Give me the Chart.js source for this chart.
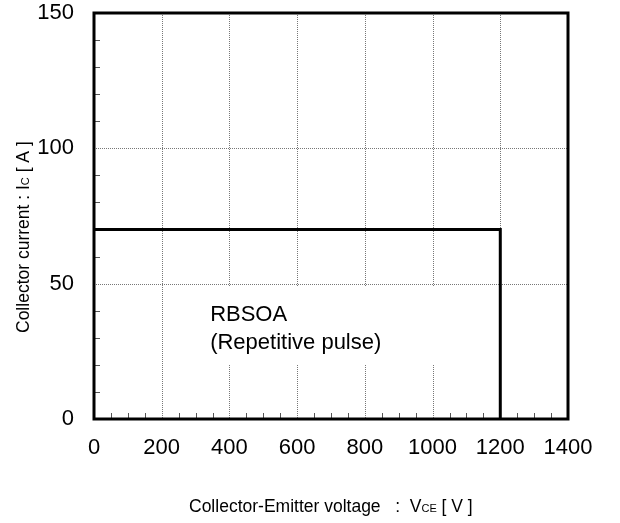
<!DOCTYPE html>
<html>
<head>
<meta charset="utf-8">
<script src="https://cdn.jsdelivr.net/npm/chart.js@4.4.1/dist/chart.umd.min.js"></script>
<style>
  html, body { margin: 0; padding: 0; background: #fff; }
  #wrap { width: 620px; height: 523px; }
</style>
</head>
<body>
<div id="wrap"><canvas id="soaChart" width="620" height="523"></canvas></div>
<script>
// RBSOA boundary
const voltageV = [0, 1200, 1200];
const currentA = [70, 70, 0];

const xTickLabels = [0, 200, 400, 600, 800, 1000, 1200, 1400];
const yTickLabels = [0, 50, 100, 150];

const noteLines = ['RBSOA', '(Repetitive pulse)'];

const FONT = '"Liberation Sans", Arial, sans-serif';

// draws text made of runs with different sizes on one baseline
function drawRuns(ctx, runs, x, y) {
    let cx = x;
    runs.forEach(r => {
        ctx.font = r.size + 'px ' + FONT;
        ctx.fillText(r.text, cx, y);
        cx += ctx.measureText(r.text).width;
    });
}

const soaPlugin = {
    id: 'soa',
    beforeDatasetsDraw(chart) {
        const ctx = chart.ctx;
        const xs = chart.scales.x, ys = chart.scales.y;
        const a = chart.chartArea;
        ctx.save();
        ctx.strokeStyle = '#777';
        ctx.lineWidth = 1;
        ctx.setLineDash([1, 1]);
        xTickLabels.forEach(v => {
            const px = Math.round(xs.getPixelForValue(v)) + 0.5;
            ctx.beginPath();
            ctx.moveTo(px, a.top);
            ctx.lineTo(px, a.bottom);
            ctx.stroke();
        });
        yTickLabels.forEach(v => {
            const py = Math.round(ys.getPixelForValue(v)) + 0.5;
            ctx.beginPath();
            ctx.moveTo(a.left, py);
            ctx.lineTo(a.right, py);
            ctx.stroke();
        });
        ctx.setLineDash([]);

        // white box behind the note
        const bx1 = xs.getPixelForValue(250), bx2 = xs.getPixelForValue(1120);
        const by1 = ys.getPixelForValue(49), by2 = ys.getPixelForValue(20);
        ctx.fillStyle = '#fff';
        ctx.fillRect(bx1, by1, bx2 - bx1, by2 - by1);

        // minor ticks, inside
        ctx.strokeStyle = '#555';
        for (let v = 50; v < 1400; v += 50) {
            if (v % 200 === 0) continue;
            const px = Math.round(xs.getPixelForValue(v)) + 0.5;
            ctx.beginPath();
            ctx.moveTo(px, a.bottom);
            ctx.lineTo(px, a.bottom - 6);
            ctx.stroke();
        }
        for (let v = 10; v < 150; v += 10) {
            if (v % 50 === 0) continue;
            const py = Math.round(ys.getPixelForValue(v)) + 0.5;
            ctx.beginPath();
            ctx.moveTo(a.left, py);
            ctx.lineTo(a.left + 6, py);
            ctx.stroke();
        }
        ctx.restore();
    },
    afterDatasetsDraw(chart) {
        const ctx = chart.ctx;
        const xs = chart.scales.x, ys = chart.scales.y;
        const a = chart.chartArea;
        ctx.save();
        // frame
        ctx.strokeStyle = '#000';
        ctx.lineWidth = 3;
        ctx.strokeRect(a.left, a.top, a.right - a.left, a.bottom - a.top);

        // note
        ctx.fillStyle = '#000';
        ctx.textBaseline = 'alphabetic';
        ctx.font = '22px ' + FONT;
        ctx.fillText(noteLines[0], xs.getPixelForValue(343), ys.getPixelForValue(36.2));
        ctx.fillText(noteLines[1], xs.getPixelForValue(343), ys.getPixelForValue(25.9));

        // axis titles
        drawRuns(ctx, [
            {text: 'Collector-Emitter voltage   :  V', size: 17.5},
            {text: 'CE', size: 11},
            {text: ' [ V ]', size: 17.5}
        ], 189, 512);

        ctx.translate(28.5, 333);
        ctx.rotate(-Math.PI / 2);
        drawRuns(ctx, [
            {text: 'Collector current : I', size: 17.5},
            {text: 'C', size: 11},
            {text: ' [ A ]', size: 17.5}
        ], 0, 0);
        ctx.restore();
    }
};

const ctx = document.getElementById('soaChart');

new Chart(ctx, {
    type: 'line',
    data: {
        datasets: [{
            label: 'RBSOA',
            data: voltageV.map((v, i) => ({x: v, y: currentA[i]})),
            borderColor: '#000',
            borderWidth: 3,
            pointRadius: 0,
            tension: 0,
            fill: false
        }]
    },
    options: {
        responsive: false,
        animation: false,
        layout: {
            padding: {top: 13, right: 52, left: 0, bottom: 0}
        },
        plugins: {
            legend: {display: false},
            tooltip: {enabled: false}
        },
        scales: {
            x: {
                type: 'linear',
                min: 0,
                max: 1400,
                afterFit: s => {
                    s.height = 104;
                    s.paddingLeft = 0;
                    s.paddingRight = 0;
                },
                afterBuildTicks: s => { s.ticks = xTickLabels.map(v => ({value: v})); },
                grid: {display: false, drawTicks: false},
                border: {display: false},
                ticks: {
                    color: '#000',
                    padding: 16,
                    maxRotation: 0,
                    font: {family: FONT, size: 22},
                    callback: v => String(v)
                }
            },
            y: {
                type: 'linear',
                min: 0,
                max: 150,
                afterFit: s => {
                    s.width = 94;
                    s.paddingTop = 0;
                    s.paddingBottom = 0;
                },
                afterBuildTicks: s => { s.ticks = yTickLabels.map(v => ({value: v})); },
                grid: {display: false, drawTicks: false},
                border: {display: false},
                ticks: {
                    color: '#000',
                    padding: 20,
                    font: {family: FONT, size: 22},
                    callback: v => String(v)
                }
            }
        }
    },
    plugins: [soaPlugin]
});
</script>
</body>
</html>
